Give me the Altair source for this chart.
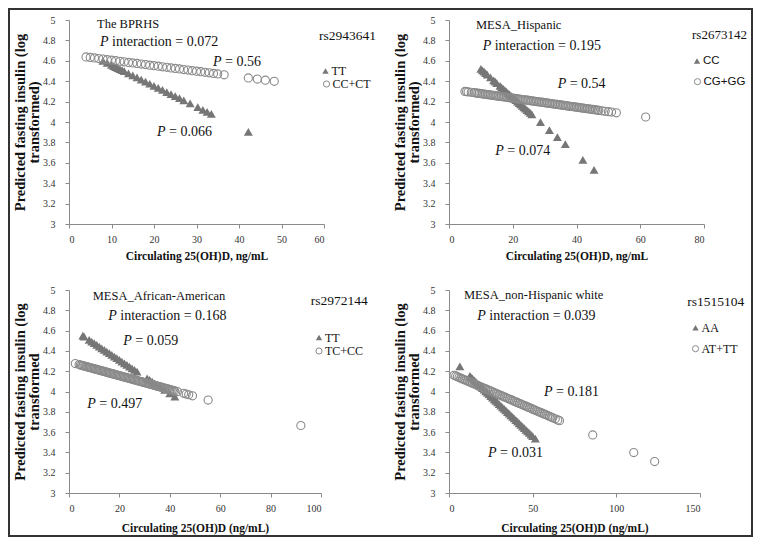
import altair as alt
import pandas as pd

# ---------------- data ----------------
# Panel 1: The BPRHS, rs2943641
p1_tt_x = [8, 9, 10, 10.5, 11, 11.5, 12, 12.5, 13, 14, 15, 16, 17, 18, 19, 20, 21, 22, 23, 24,
           25, 26, 27, 28.5, 30.3, 31.5, 32.5, 33.5, 42.2]
p1_tt_y = [4.600, 4.579, 4.559, 4.549, 4.539, 4.528, 4.518, 4.508, 4.498, 4.477, 4.457, 4.437,
           4.416, 4.396, 4.375, 4.355, 4.335, 4.314, 4.294, 4.273, 4.253, 4.233, 4.212, 4.182,
           4.145, 4.120, 4.100, 4.080, 3.902]
p1_cc_x = [4, 5, 6, 7, 8, 9, 10, 11, 12, 13, 14, 15, 16, 17, 18, 19, 20, 21, 22, 23, 24, 25, 26,
           27, 28, 29, 30, 31, 32, 33, 34, 35, 36.5, 42.2, 44.3, 46.2, 48.3]
p1_cc_y = [4.638, 4.633, 4.628, 4.622, 4.617, 4.611, 4.606, 4.601, 4.595, 4.590, 4.584, 4.579,
           4.574, 4.568, 4.563, 4.557, 4.552, 4.547, 4.541, 4.536, 4.530, 4.525, 4.520, 4.514,
           4.509, 4.503, 4.498, 4.493, 4.487, 4.482, 4.476, 4.471, 4.463, 4.432, 4.421, 4.410,
           4.399]

# Panel 2: MESA_Hispanic, rs2673142
p2_cc_x = [10, 10.5, 11, 11.5, 12, 13, 14, 14.5, 15, 16, 16.5, 17, 17.5, 18, 18.5, 19, 19.5, 20,
           20.5, 21, 21.5, 22, 22.5, 23, 23.5, 24, 24.5, 25, 25.5, 26, 28.7, 31.5, 34, 36.5, 42,
           45.5]
p2_cc_y = [4.521, 4.507, 4.493, 4.479, 4.465, 4.437, 4.409, 4.395, 4.382, 4.354, 4.340, 4.326,
           4.312, 4.298, 4.284, 4.270, 4.256, 4.242, 4.228, 4.214, 4.200, 4.186, 4.172, 4.158,
           4.144, 4.130, 4.116, 4.103, 4.089, 4.075, 3.999, 3.921, 3.851, 3.782, 3.628, 3.531]
p2_gg_x = [5, 5.5, 6, 7, 8, 8.5, 9, 9.5, 10, 10.5, 11, 11.5, 12, 12.5, 13, 13.5, 14, 14.5, 15,
           15.5, 16, 16.5, 17, 17.5, 18, 18.5, 19, 19.5, 20, 20.5, 21, 21.5, 22, 22.5, 23, 23.5,
           24, 24.5, 25, 25.5, 26, 26.5, 27, 27.5, 28, 28.5, 29, 29.5, 30, 30.5, 31, 31.5, 32,
           32.5, 33, 33.5, 34, 34.5, 35, 35.5, 36, 36.5, 37, 37.5, 38, 38.5, 39, 39.5, 40, 40.5,
           41, 41.5, 42, 42.5, 43, 43.5, 44, 44.5, 45, 45.5, 46, 46.5, 47, 48, 49, 50, 51, 52.5,
           61.7]
p2_gg_y = [4.300, 4.298, 4.295, 4.291, 4.287, 4.284, 4.282, 4.280, 4.278, 4.276, 4.273, 4.271,
           4.269, 4.267, 4.265, 4.262, 4.260, 4.258, 4.256, 4.253, 4.251, 4.249, 4.247, 4.245,
           4.242, 4.240, 4.238, 4.236, 4.234, 4.231, 4.229, 4.227, 4.225, 4.223, 4.220, 4.218,
           4.216, 4.214, 4.212, 4.209, 4.207, 4.205, 4.203, 4.200, 4.198, 4.196, 4.194, 4.192,
           4.189, 4.187, 4.185, 4.183, 4.181, 4.178, 4.176, 4.174, 4.172, 4.170, 4.167, 4.165,
           4.163, 4.161, 4.158, 4.156, 4.154, 4.152, 4.150, 4.147, 4.145, 4.143, 4.141, 4.139,
           4.136, 4.134, 4.132, 4.130, 4.128, 4.125, 4.123, 4.121, 4.119, 4.117, 4.114, 4.110,
           4.105, 4.101, 4.097, 4.090, 4.049]

# Panel 3: MESA_African-American, rs2972144
p3_tt_x = [5.5, 6, 8, 9, 10, 11, 12, 13, 14, 15, 16, 17, 18, 19, 20, 21, 22, 23, 24, 25, 26, 27,
           31, 32, 33, 34, 36, 38, 40, 42]
p3_tt_y = [4.550, 4.541, 4.508, 4.492, 4.476, 4.459, 4.443, 4.426, 4.410, 4.393, 4.377, 4.361,
           4.344, 4.328, 4.311, 4.295, 4.278, 4.262, 4.245, 4.229, 4.213, 4.196, 4.130, 4.114,
           4.097, 4.081, 4.048, 4.015, 3.982, 3.950]
p3_cc_x = [2.5, 4, 4.5, 5, 5.5, 6, 6.5, 7, 7.5, 8, 8.5, 9, 9.5, 10, 10.5, 11, 11.5, 12, 12.5, 13,
           13.5, 14, 14.5, 15, 15.5, 16, 16.5, 17, 17.5, 18, 18.5, 19, 19.5, 20, 20.5, 21, 21.5,
           22, 22.5, 23, 23.5, 24, 24.5, 25, 25.5, 26, 26.5, 27, 27.5, 28, 28.5, 29, 29.5, 30,
           30.5, 31, 31.5, 32, 32.5, 33, 33.5, 34, 34.5, 35, 35.5, 36, 36.5, 37, 37.5, 38, 38.5,
           39, 39.5, 40, 40.5, 41, 41.5, 42, 43, 45.5, 46.5, 47.5, 49, 55.2, 92]
p3_cc_y = [4.275, 4.265, 4.261, 4.258, 4.254, 4.251, 4.248, 4.244, 4.241, 4.237, 4.234, 4.231,
           4.227, 4.224, 4.220, 4.217, 4.214, 4.210, 4.207, 4.203, 4.200, 4.197, 4.193, 4.190,
           4.186, 4.183, 4.179, 4.176, 4.173, 4.169, 4.166, 4.162, 4.159, 4.156, 4.152, 4.149,
           4.145, 4.142, 4.139, 4.135, 4.132, 4.128, 4.125, 4.122, 4.118, 4.115, 4.111, 4.108,
           4.104, 4.101, 4.098, 4.094, 4.091, 4.087, 4.084, 4.081, 4.077, 4.074, 4.070, 4.067,
           4.063, 4.060, 4.057, 4.053, 4.050, 4.046, 4.043, 4.040, 4.036, 4.033, 4.029, 4.026,
           4.023, 4.019, 4.016, 4.012, 4.009, 4.006, 3.999, 3.982, 3.975, 3.968, 3.958, 3.916,
           3.665]

# Panel 4: MESA_non-Hispanic white, rs1515104
p4_aa_x = [6.5, 12.5, 13, 14, 15, 16, 17, 18, 19, 20, 21, 22, 23, 24, 25, 26, 27, 28, 29, 30, 31,
           32, 33, 34, 35, 36, 37, 38, 39, 40, 41, 42, 43, 44, 45, 46, 47, 48, 49, 50, 51.6]
p4_aa_y = [4.247, 4.153, 4.145, 4.129, 4.113, 4.097, 4.081, 4.066, 4.050, 4.034, 4.018, 4.002,
           3.987, 3.971, 3.955, 3.939, 3.923, 3.908, 3.892, 3.876, 3.860, 3.844, 3.829, 3.813,
           3.797, 3.781, 3.765, 3.750, 3.734, 3.718, 3.702, 3.686, 3.671, 3.655, 3.639, 3.623,
           3.607, 3.592, 3.576, 3.560, 3.535]
p4_tt_x = [3, 4, 5, 6, 7, 8, 9, 10, 11, 12, 13, 14, 15, 16, 17, 18, 19, 20, 21, 22, 23, 24, 25,
           26, 27, 28, 29, 30, 31, 32, 33, 34, 35, 36, 37, 38, 39, 40, 41, 42, 43, 44, 45, 46, 47,
           48, 49, 50, 51, 52, 53, 54, 55, 56, 57, 58, 59, 60, 61, 62, 63.5, 65, 66, 85.9, 110.4,
           122.9]
p4_tt_y = [4.160, 4.153, 4.146, 4.138, 4.131, 4.124, 4.117, 4.110, 4.103, 4.096, 4.089, 4.082,
           4.075, 4.068, 4.060, 4.053, 4.046, 4.039, 4.032, 4.025, 4.018, 4.011, 4.004, 3.997,
           3.990, 3.982, 3.975, 3.968, 3.961, 3.954, 3.947, 3.940, 3.933, 3.926, 3.919, 3.912,
           3.904, 3.897, 3.890, 3.883, 3.876, 3.869, 3.862, 3.855, 3.848, 3.841, 3.834, 3.826,
           3.819, 3.812, 3.805, 3.798, 3.791, 3.784, 3.777, 3.770, 3.763, 3.756, 3.748, 3.741,
           3.731, 3.720, 3.713, 3.572, 3.398, 3.310]

# Texts
cohorts = ["The BPRHS", "MESA_Hispanic", "MESA_African-American", "MESA_non-Hispanic white"]
snps = ["rs2943641", "rs2673142", "rs2972144", "rs1515104"]
genotypes = [["TT", "CC+CT"], ["CC", "CG+GG"], ["TT", "TC+CC"], ["AA", "AT+TT"]]
p_interaction = ["interaction = 0.072", "interaction = 0.195", "interaction = 0.168", "interaction = 0.039"]
p_triangle = ["= 0.066", "= 0.074", "= 0.059", "= 0.031"]
p_circle = ["= 0.56", "= 0.54", "= 0.497", "= 0.181"]
x_titles = ["Circulating 25(OH)D, ng/mL", "Circulating 25(OH)D, ng/mL",
            "Circulating 25(OH)D (ng/mL)", "Circulating 25(OH)D (ng/mL)"]
y_titles = [["Predicted fasting insulin (log", "transformed)"],
            ["Predicted fasting insulin (log", "transformed)"],
            ["Predicted fasting insulin (log", "transformed"],
            ["Predicted fasting insulin (log", "transformed"]]
x_max = [60, 80, 100, 150]
x_ticks = [[0, 10, 20, 30, 40, 50, 60], [0, 20, 40, 60, 80], [0, 20, 40, 60, 80, 100], [0, 50, 100, 150]]
y_ticks = [3, 3.2, 3.4, 3.6, 3.8, 4, 4.2, 4.4, 4.6, 4.8, 5]

# ---------------- styling ----------------
TRI = "#767676"
CIR = "#8a8a8a"
SERIF = "Liberation Serif"
SANS = "Liberation Sans"
INK = "#111111"


def txt(label, rx, ry, size, style="normal", font=SERIF):
    return alt.Chart(pd.DataFrame({"t": [label]})).mark_text(
        align="left", baseline="middle", font=font, fontSize=size,
        fontStyle=style, color=INK).encode(
        x=alt.value(rx), y=alt.value(ry), text=alt.Text("t:N"))


def ptxt(rest, rx, ry, size=14):
    return [txt("P", rx, ry, size, style="italic"), txt(rest, rx + 12, ry, size)]


def sym(kind, rx, ry):
    base = alt.Chart(pd.DataFrame({"t": [0]}))
    if kind == "tri":
        m = base.mark_point(shape="triangle-up", filled=True, size=40, color=TRI, opacity=1)
    else:
        m = base.mark_point(shape="circle", filled=False, size=38, color=CIR, strokeWidth=1, opacity=1)
    return m.encode(x=alt.value(rx), y=alt.value(ry))


def panel(i, tx, ty, cx, cy, w, h, pos, legend_font, xtitle_pad, border=False):
    xenc = alt.X("x:Q", scale=alt.Scale(domain=[0, x_max[i]], nice=False),
                 axis=alt.Axis(values=x_ticks[i], title=x_titles[i], grid=False,
                               titleFont=SERIF, titleFontWeight="bold", titleFontSize=11.5,
                               titleColor=INK, titlePadding=xtitle_pad,
                               labelFont=SERIF, labelFontSize=10, labelColor="#333333",
                               labelPadding=6, tickSize=4, tickColor="#8a8a8a",
                               domainColor="#8a8a8a"))
    yenc = alt.Y("y:Q", scale=alt.Scale(domain=[3, 5], nice=False, zero=False),
                 axis=alt.Axis(values=y_ticks, format="~g", title=y_titles[i], grid=False,
                               titleFont=SERIF, titleFontWeight="bold", titleFontSize=14.5,
                               titleLineHeight=14.5, titleColor=INK, titlePadding=1,
                               labelFont=SERIF, labelFontSize=10, labelColor="#333333",
                               labelPadding=10, tickSize=4, tickColor="#8a8a8a",
                               domainColor="#8a8a8a"))
    tri = alt.Chart(pd.DataFrame({"x": tx, "y": ty})).mark_point(
        shape="triangle-up", filled=True, size=80, color=TRI, opacity=1).encode(x=xenc, y=yenc)
    cir = alt.Chart(pd.DataFrame({"x": cx, "y": cy})).mark_point(
        shape="circle", filled=False, size=66, color=CIR, strokeWidth=1.1, opacity=1).encode(x=xenc, y=yenc)

    layers = []
    if border:
        layers.append(alt.Chart(pd.DataFrame({"t": [0]})).mark_rect(
            fill="transparent", stroke="#333333", strokeWidth=2).encode(
            x=alt.value(-60), x2=alt.value(683), y=alt.value(-11), y2=alt.value(516)))
    layers += [tri, cir]
    layers.append(txt(cohorts[i], pos["title"][0], pos["title"][1], 12.5))
    layers += ptxt(p_interaction[i], pos["pint"][0], pos["pint"][1])
    layers += ptxt(p_circle[i], pos["pc"][0], pos["pc"][1])
    layers += ptxt(p_triangle[i], pos["pt"][0], pos["pt"][1])
    layers.append(txt(snps[i], pos["snp"][0], pos["snp"][1], pos.get("snp_size", 13.5)))
    (sx1, sy1), (sx2, sy2) = pos["sym"]
    layers.append(sym("tri", sx1, sy1))
    layers.append(sym("cir", sx2, sy2))
    lsize = 11.5 if legend_font == SANS else 12
    layers.append(txt(genotypes[i][0], sx1 + 6, sy1, lsize, font=legend_font))
    layers.append(txt(genotypes[i][1], sx2 + 6, sy2, lsize, font=legend_font))
    return alt.layer(*layers).properties(width=w, height=h)


pos1 = {"title": (28, 4), "pint": (31, 21.7), "pc": (144, 42), "pt": (88, 112),
        "snp": (250, 16), "sym": [(256.5, 51), (257.5, 64)]}
pos2 = {"title": (27, 5), "pint": (33.7, 25.7), "pc": (108.7, 64.3), "pt": (46.3, 131),
        "snp": (243, 15), "snp_size": 13, "sym": [(248, 41), (248.5, 61.7)]}
pos3 = {"title": (23.7, 6), "pint": (39.3, 26), "pc": (18.3, 114.3), "pt": (54.3, 51),
        "snp": (241.7, 11), "sym": [(250, 47.5), (250, 61)]}
pos4 = {"title": (15, 5.3), "pint": (28.3, 26), "pc": (95, 102), "pt": (39, 162.7),
        "snp": (238.3, 12), "sym": [(246.5, 37.7), (246.5, 58.7)]}

c1 = panel(0, p1_tt_x, p1_tt_y, p1_cc_x, p1_cc_y, 255, 204, pos1, SERIF, 6, border=True)
c2 = panel(1, p2_cc_x, p2_cc_y, p2_gg_x, p2_gg_y, 255, 204, pos2, SANS, 6)
c3 = panel(2, p3_tt_x, p3_tt_y, p3_cc_x, p3_cc_y, 252, 203, pos3, SERIF, 9)
c4 = panel(3, p4_aa_x, p4_aa_y, p4_tt_x, p4_tt_y, 251, 203, pos4, SERIF, 9)

chart = alt.concat(c1, c2, c3, c4, columns=2, spacing={"row": 66, "column": 125},
                   bounds="flush").properties(padding=0).configure_view(strokeWidth=0)

chart.save("out.html", embed_options={"renderer": "svg", "actions": False})
